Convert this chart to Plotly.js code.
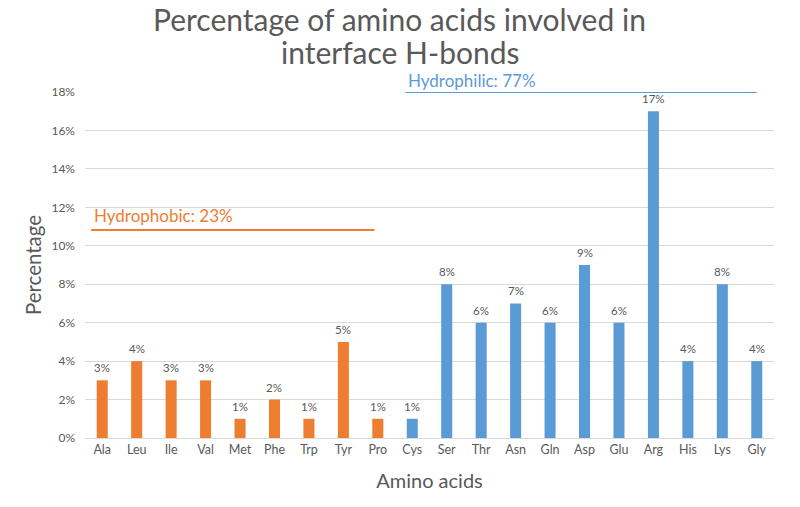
<!DOCTYPE html>
<html><head><meta charset="utf-8">
<script src="https://cdn.plot.ly/plotly-3.0.1.min.js"></script>
<style>body{margin:0;background:#fff}#c{width:800px;height:507px}</style>
</head><body><div id="c"></div>
<script>
const hydrophobic = ['Ala','Leu','Ile','Val','Met','Phe','Trp','Tyr','Pro'];
const hydrophobicVals = [3,4,3,3,1,2,1,5,1];
const hydrophilic = ['Cys','Ser','Thr','Asn','Gln','Asp','Glu','Arg','His','Lys','Gly'];
const hydrophilicVals = [1,8,6,7,6,9,6,17,4,8,4];
const yTicks = [0,2,4,6,8,10,12,14,16,18];
const titleLines = ['Percentage of amino acids involved in','interface H-bonds'];
const groupLines = [
  {label:'Hydrophobic: 23%', x0:-0.32, x1:7.9, y:10.82, color:'#ED7D31', shift:3},
  {label:'Hydrophilic: 77%', x0:8.8, x1:19.0, y:18, color:'#5B9BD5', shift:0}
];
const allCats = hydrophobic.concat(hydrophilic);
const font = 'Lato, Open Sans, sans-serif';
const grey = '#595959';
function trace(cats, vals, color){
  return {type:'bar', x:cats.map(c=>allCats.indexOf(c)), y:vals,
    marker:{color:color}, hoverinfo:'none', width:0.32};
}
const data = [trace(hydrophobic,hydrophobicVals,'#ED7D31'), trace(hydrophilic,hydrophilicVals,'#5B9BD5')];
const shapes = groupLines.map(g=>({type:'line',xref:'x',yref:'y',x0:g.x0,x1:g.x1,y0:g.y,y1:g.y,line:{color:g.color,width:2}}));
const annotations = groupLines.map(g=>({xref:'x',yref:'y',x:g.x0+0.05,y:g.y,text:g.label,showarrow:false,xanchor:'left',yanchor:'bottom',yshift:g.shift,borderpad:0,font:{size:17,color:g.color,family:font}}));
[[hydrophobic,hydrophobicVals],[hydrophilic,hydrophilicVals]].forEach(([cats,vals])=>{
  cats.forEach((c,i)=>annotations.push({xref:'x',yref:'y',x:allCats.indexOf(c),y:vals[i],text:vals[i]+'%',showarrow:false,
    xanchor:'center',yanchor:'bottom',yshift:4,font:{size:11.5,color:grey,family:font}}));
});
annotations.push({xref:'paper',yref:'paper',x:0.457,y:1+92/346,xanchor:'center',yanchor:'top',showarrow:false,
  text:titleLines[0],font:{size:30,color:grey,family:font},borderpad:0});
annotations.push({xref:'paper',yref:'paper',x:0.457,y:1+(92-33)/346,xanchor:'center',yanchor:'top',showarrow:false,
  text:titleLines[1],font:{size:30,color:grey,family:font},borderpad:0});
const layout = {
  width:800,height:507,margin:{l:85,r:26,t:92,b:69},
  paper_bgcolor:'#fff',plot_bgcolor:'#fff',showlegend:false,barmode:'overlay',
  xaxis:{range:[-0.5,19.5],tickvals:allCats.map((c,i)=>i),ticktext:allCats,showgrid:false,zeroline:false,showline:true,linecolor:'#d9d9d9',ticks:'',
    tickfont:{size:12.5,color:grey,family:font},title:{text:'Amino acids',font:{size:20,color:grey,family:font},standoff:17}},
  yaxis:{range:[0,18],tickvals:yTicks,ticktext:yTicks.map(v=>v+'%'),showgrid:true,gridcolor:'#d9d9d9',zeroline:false,ticks:'',ticklabelstandoff:9,
    tickfont:{size:12,color:grey,family:font},title:{text:'Percentage',font:{size:20.5,color:grey,family:font},standoff:4}},
  shapes:shapes,annotations:annotations
};
Plotly.newPlot('c',data,layout,{displayModeBar:false,staticPlot:true});
</script></body></html>
